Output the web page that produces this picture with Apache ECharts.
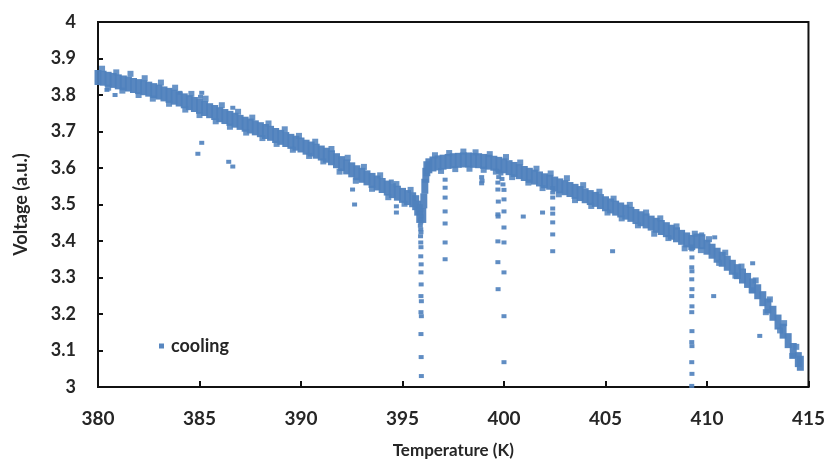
<!DOCTYPE html>
<html>
<head>
<meta charset="utf-8">
<script src="https://cdn.jsdelivr.net/npm/echarts@6/dist/echarts.min.js"></script>
<style>html,body{margin:0;padding:0;background:#fff}#c{width:828px;height:464px}</style>
</head>
<body>
<div id="c"></div>
<script>
// x tick labels: 380..415 step 5 ; y tick labels: 3..4 step 0.1
var xTicks = [380, 385, 390, 395, 400, 405, 410, 415];
var yTicks = [3, 3.1, 3.2, 3.3, 3.4, 3.5, 3.6, 3.7, 3.8, 3.9, 4];

// main band (centre of the dense cloud), [temperature K, voltage]
var bandMain = [
 [380.0,3.848],[380.25,3.846],[380.5,3.843],[380.75,3.840],[381.0,3.836],[381.25,3.833],[381.5,3.830],[381.75,3.826],
 [382.0,3.823],[382.25,3.820],[382.5,3.816],[382.75,3.812],[383.0,3.808],[383.25,3.803],[383.5,3.799],[383.75,3.794],
 [384.0,3.789],[384.25,3.784],[384.5,3.779],[384.75,3.774],[385.0,3.769],[385.25,3.763],[385.5,3.757],[385.75,3.752],
 [386.0,3.746],[386.25,3.741],[386.5,3.736],[386.75,3.731],[387.0,3.725],[387.25,3.720],[387.5,3.715],[387.75,3.710],
 [388.0,3.705],[388.25,3.700],[388.5,3.695],[388.75,3.689],[389.0,3.684],[389.25,3.678],[389.5,3.673],[389.75,3.668],
 [390.0,3.663],[390.25,3.657],[390.5,3.652],[390.75,3.646],[391.0,3.641],[391.25,3.635],[391.5,3.628],[391.75,3.620],
 [392.0,3.612],[392.25,3.603],[392.5,3.595],[392.75,3.587],[393.0,3.580],[393.25,3.573],[393.5,3.566],[393.75,3.559],
 [394.0,3.552],[394.25,3.545],[394.5,3.538],[394.75,3.531],[395.0,3.525],[395.25,3.519],[395.5,3.513],[395.65,3.505],
 [395.75,3.490],[395.85,3.470],
 [396.0,3.470],[396.05,3.510],[396.1,3.550],[396.15,3.580],[396.2,3.598],[396.3,3.606],[396.5,3.611],[396.75,3.614],
 [397.0,3.616],[397.25,3.618],[397.5,3.620],[397.75,3.621],[398.0,3.622],[398.25,3.622],[398.5,3.621],[398.75,3.620],
 [399.0,3.618],[399.25,3.616],[399.5,3.613],[399.75,3.610],[400.0,3.606],[400.25,3.601],[400.5,3.596],[400.75,3.590],
 [401.0,3.585],[401.25,3.580],[401.5,3.575],[401.75,3.570],[402.0,3.565],[402.25,3.561],[402.5,3.556],[402.75,3.551],
 [403.0,3.546],[403.25,3.541],[403.5,3.536],[403.75,3.530],[404.0,3.524],[404.25,3.519],[404.5,3.514],[404.75,3.508],
 [405.0,3.502],[405.25,3.496],[405.5,3.490],[405.75,3.485],[406.0,3.479],[406.25,3.473],[406.5,3.467],[406.75,3.461],
 [407.0,3.455],[407.25,3.449],[407.5,3.443],[407.75,3.437],[408.0,3.431],[408.25,3.424],[408.5,3.417],[408.75,3.410],
 [409.0,3.403],[409.25,3.396],[409.5,3.400],[409.75,3.398],[410.0,3.383],[410.25,3.372],[410.5,3.361],[410.75,3.350],
 [411.0,3.339],[411.25,3.328],[411.5,3.316],[411.75,3.304],[412.0,3.292],[412.25,3.277],[412.5,3.261],[412.75,3.242],
 [413.0,3.222],[413.25,3.202],[413.5,3.178],[413.75,3.153],[414.0,3.127],[414.25,3.100],[414.5,3.075],[414.6,3.065]
];

// ragged upper / lower edges of the cloud
var bandUpper = [
 [380.2,3.872],[380.9,3.862],[381.6,3.858],[382.3,3.846],[383.1,3.834],[383.8,3.820],[384.6,3.803],[385.3,3.790],
 [386.1,3.772],[386.9,3.754],[387.6,3.738],[388.4,3.722],[389.2,3.706],[389.9,3.688],[390.7,3.672],[391.5,3.652],
 [392.3,3.628],[393.1,3.603],[393.9,3.580],[394.7,3.556],[395.4,3.540],[396.6,3.635],[397.3,3.641],[398.0,3.645],
 [398.6,3.643],[399.3,3.638],[400.1,3.630],[400.8,3.615],[401.6,3.598],[402.3,3.585],[403.1,3.572],[403.9,3.553],
 [404.7,3.535],[405.4,3.516],[406.2,3.499],[407.0,3.478],[407.7,3.462],[408.5,3.440],[409.4,3.420],[410.1,3.405],
 [410.9,3.368],[411.7,3.330],[412.4,3.292],[413.1,3.240],[413.8,3.175],[414.4,3.110]
];
var bandLower = [
 [380.5,3.820],[381.2,3.812],[382.0,3.800],[382.7,3.790],[383.5,3.776],[384.3,3.760],[385.0,3.745],[385.8,3.728],
 [386.5,3.713],[387.3,3.697],[388.1,3.682],[388.8,3.666],[389.6,3.650],[390.4,3.633],[391.1,3.618],[391.9,3.590],
 [392.7,3.565],[393.5,3.543],[394.3,3.520],[395.1,3.502],[396.9,3.592],[397.6,3.597],[398.3,3.598],[399.0,3.595],
 [399.6,3.590],[400.4,3.575],[401.2,3.560],[401.9,3.545],[402.7,3.528],[403.5,3.512],[404.3,3.496],[405.1,3.478],
 [405.8,3.462],[406.6,3.443],[407.4,3.420],[408.1,3.408],[408.9,3.380],[409.7,3.375],[410.6,3.340],[411.4,3.305],
 [412.2,3.265],[412.9,3.205],[413.6,3.155],[414.2,3.085]
];

// vertical drop-outs and stray points
var dropA = [
 [395.88,3.495],[395.9,3.485],[395.87,3.476],[395.91,3.467],[395.89,3.458],[395.9,3.451],[395.88,3.442],[395.9,3.432],
 [395.91,3.424],[395.89,3.413],[395.9,3.396],[395.91,3.383],[395.9,3.358],[395.92,3.336],[395.91,3.314],[395.92,3.281],
 [395.91,3.249],[395.93,3.235],[395.91,3.205],[395.93,3.194],[395.91,3.145],[395.92,3.082],[395.93,3.030]
];
var dropB = [[397.1,3.568],[397.1,3.546],[397.1,3.519],[397.1,3.481],[397.1,3.448],[397.1,3.396],[397.1,3.350]];
var dropC = [
 [398.9,3.575],[398.92,3.565],[398.9,3.558],
 [399.72,3.590],[399.74,3.575],[399.7,3.560],[399.7,3.541],[399.72,3.508],[399.7,3.473],[399.71,3.467],
 [399.7,3.399],[399.7,3.342],[399.71,3.268]
];
var dropD = [
 [399.85,3.585],[399.9,3.570],[399.95,3.555],[400.0,3.540],[400.0,3.514],[400.0,3.481],[400.0,3.437],[400.0,3.396],
 [400.0,3.314],[400.0,3.194],[400.0,3.068]
];
var dropE = [[402.4,3.545],[402.4,3.533],[402.4,3.519],[402.4,3.489],[402.4,3.475],[402.4,3.451],[402.4,3.418],[402.4,3.372]];
var dropF = [
 [409.25,3.385],[409.25,3.377],[409.26,3.355],[409.25,3.328],[409.26,3.317],[409.25,3.295],[409.26,3.268],[409.25,3.249],
 [409.26,3.221],[409.25,3.205],[409.26,3.153],[409.25,3.123],[409.26,3.112],[409.25,3.068],[409.26,3.036],[409.25,3.003]
];
var strays = [
 [380.44,3.814],[380.84,3.800],[384.03,3.806],[385.11,3.806],[385.05,3.795],[385.11,3.669],[384.92,3.639],
 [386.44,3.617],[386.64,3.604],[386.64,3.765],[392.54,3.541],[392.64,3.500],[394.7,3.495],[394.7,3.478],[394.45,3.563],
 [400.95,3.467],[401.9,3.478],[405.35,3.372],[409.74,3.418],[410.38,3.410],[410.33,3.249],[412.25,3.339],[412.6,3.140]
];

var blue = '#4f81bd';
var font = 'Lato, "Open Sans", sans-serif';
var chart = echarts.init(document.getElementById('c'));
chart.setOption({
  animation: false,
  backgroundColor: '#fff',
  grid: { left: 98, right: 18, top: 22, bottom: 76, show: true, borderColor: '#111', borderWidth: 2, backgroundColor: 'transparent' },
  legend: {
    data: ['cooling'], left: 154, top: 332, icon: 'rect', itemWidth: 5, itemHeight: 5, itemGap: 4,
    textStyle: { fontFamily: font, fontWeight: 'bold', fontSize: 18, color: '#262626', padding: [0, 0, 0, 2] }
  },
  xAxis: {
    type: 'value', min: xTicks[0], max: xTicks[xTicks.length - 1], interval: 5,
    name: 'Temperature (K)', nameLocation: 'middle', nameGap: 55,
    nameTextStyle: { fontFamily: font, fontWeight: 'bold', fontSize: 17, color: '#262626' },
    axisLine: { lineStyle: { color: '#111', width: 2 } },
    axisTick: { inside: true, length: 6, lineStyle: { color: '#111', width: 2 } },
    axisLabel: { margin: 22, fontFamily: font, fontWeight: 'bold', fontSize: 19, color: '#262626' },
    splitLine: { show: false }
  },
  yAxis: {
    type: 'value', min: yTicks[0], max: yTicks[yTicks.length - 1], interval: 0.1,
    name: 'Voltage (a.u.)', nameLocation: 'middle', nameGap: 68, nameRotate: 90,
    nameTextStyle: { fontFamily: font, fontWeight: 'bold', fontSize: 18, color: '#262626' },
    axisLine: { lineStyle: { color: '#111', width: 2 } },
    axisTick: { inside: true, length: 5, lineStyle: { color: '#111', width: 2 } },
    axisLabel: { margin: 22, fontFamily: font, fontWeight: 'bold', fontSize: 18, color: '#262626' },
    splitLine: { show: false }
  },
  series: [
    { name: 'cooling', type: 'scatter', data: bandMain, symbol: 'rect', symbolSize: [7, 15], itemStyle: { color: blue, opacity: 0.95 } },
    { name: 'cooling', type: 'scatter', data: bandUpper.concat(bandLower), symbol: 'rect', symbolSize: 6, itemStyle: { color: blue, opacity: 0.85 } },
    { name: 'cooling', type: 'scatter', data: dropA.concat(dropB, dropC, dropD, dropE, dropF, strays), symbol: 'rect', symbolSize: [5, 4], itemStyle: { color: blue, opacity: 0.9 } }
  ]
});
</script>
</body>
</html>
